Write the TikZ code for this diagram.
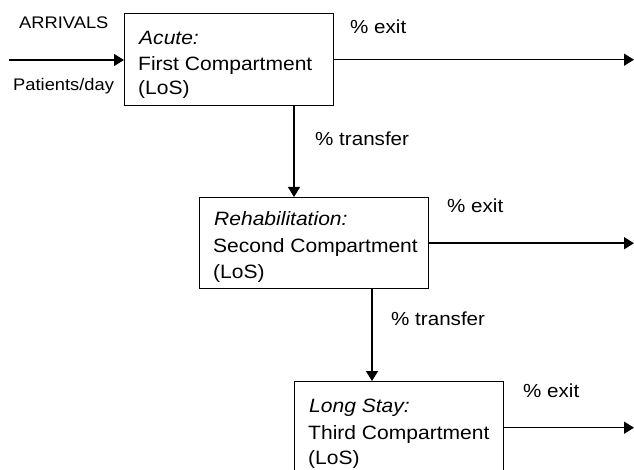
\documentclass[tikz,border=0pt]{standalone}
\usepackage{fontspec}
\setmainfont{Liberation Sans}[FakeStretch=1.09]
\usetikzlibrary{arrows.meta}
\tikzset{
  box/.style={draw, line width=1.4pt, rectangle, minimum width=209pt, minimum height=92pt, anchor=north west, inner sep=0pt},
  boxtxt/.style={anchor=base west, inner sep=0pt, font=\fontsize{19.3}{23}\selectfont},
  lbl/.style={anchor=base west, inner sep=0pt, font=\fontsize{18.9}{22}\selectfont},
  slbl/.style={anchor=base west, inner sep=0pt, font=\fontsize{16.8}{20}\selectfont},
  arr/.style={line width=1.4pt, -{Triangle[length=10pt,width=12pt]}},
}
\begin{document}
\begin{tikzpicture}[x=1pt,y=-1pt]
\useasboundingbox (0,0) rectangle (634,470);
\clip (0,0) rectangle (634,470);
% boxes
\node[box] (b1) at (124,13) {};
\node[box, minimum width=229pt, minimum height=91pt] (b2) at (199,197) {};
\node[box] (b3) at (294,381) {};
% box texts
\node[boxtxt] (b1a) at (139,45) {\itshape Acute:};
\node[boxtxt] (b1b) at (138,70.7) {First Compartment};
\node[boxtxt] (b1c) at (138,94.3) {(LoS)};
\node[boxtxt] (b2a) at (214,225.5) {\itshape Rehabilitation:};
\node[boxtxt] (b2b) at (213,253) {Second Compartment};
\node[boxtxt] (b2c) at (213,279) {(LoS)};
\node[boxtxt] (b3a) at (309,412.5) {\itshape Long Stay:};
\node[boxtxt] (b3b) at (308,439) {Third Compartment};
\node[boxtxt] (b3c) at (308,464) {(LoS)};
% labels
\node[slbl] (arrl) at (19,29) {ARRIVALS};
\node[slbl] (ppd) at (13,90.5) {Patients/day};
\node[lbl] (e1) at (350,33.5) {\% exit};
\node[lbl] (e2) at (447,213) {\% exit};
\node[lbl] (e3) at (523,397) {\% exit};
\node[lbl] (t1) at (315,146) {\% transfer};
\node[lbl] (t2) at (391,325) {\% transfer};
% coordinates
\coordinate (in) at (9,60);
\coordinate (out) at (634,0);
\coordinate (x1) at (294,0);
\coordinate (x2) at (372,0);
% connectors
\draw[arr] (in) -- (in -| b1.west);
\draw[arr] (b1.east) -- (b1.east -| out);
\draw[arr] (b2.east) -- (b2.east -| out);
\draw[arr] (b3.east) -- (b3.east -| out);
\draw[arr] (x1 |- b1.south) -- (x1 |- b2.north);
\draw[arr] (x2 |- b2.south) -- (x2 |- b3.north);
\end{tikzpicture}
\end{document}
